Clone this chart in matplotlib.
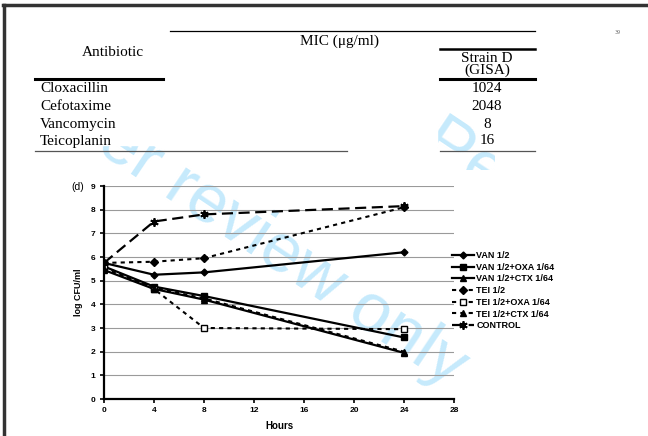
import matplotlib
matplotlib.use('Agg')
import matplotlib.pyplot as plt
from matplotlib.lines import Line2D
from matplotlib.patches import Rectangle
from matplotlib.transforms import Bbox, TransformedBbox

# table data
antibiotics = ['Cloxacillin', 'Cefotaxime', 'Vancomycin', 'Teicoplanin']
mic_values = ['1024', '2048', '8', '16']

# time-kill curves (log CFU/ml)
hours = [0, 4, 8, 24]
van = [5.75, 5.25, 5.35, 6.2]
van_oxa = [5.6, 4.75, 4.35, 2.6]
van_ctx = [5.45, 4.65, 4.2, 1.95]
tei = [5.75, 5.8, 5.95, 8.1]
tei_oxa = [5.6, 4.65, 3.0, 2.95]
tei_ctx = [5.5, 4.7, 4.25, 2.0]
control = [5.75, 7.5, 7.8, 8.15]

W, H = 648, 436
fig = plt.figure(figsize=(6.48, 4.36), dpi=100)

def fx(x):
    return x / W

def fy(y):
    return 1 - y / H

def hline(x0, x1, y, lw, color='black'):
    fig.add_artist(Line2D([fx(x0), fx(x1)], [fy(y), fy(y)], lw=lw, color=color))

# page border
hline(3, W, 5, 2.5, '#333333')
fig.add_artist(Line2D([fx(4), fx(4)], [fy(5), fy(H)], lw=2.5, color='#333333'))

# watermark (partly hidden behind the table, as in the scan)
wm = dict(color='#c6eafc', fontsize=50, family='Liberation Sans', rotation=-33.8,
          rotation_mode='anchor', zorder=-2)
fig.text(fx(450), fy(388), 'peer review only', ha='right', va='baseline', **wm)
wm_top = fig.text(fx(316), fy(80), 'For Peer', ha='left', va='baseline', **wm)
wm_top.set_clip_box(TransformedBbox(Bbox.from_extents(fx(437), fy(170), fx(495), fy(0)),
                                    fig.transFigure))
fig.add_artist(Rectangle((fx(6), fy(145)), fx(437) - fx(6), fy(8) - fy(145),
                         transform=fig.transFigure, color='white', zorder=-1))

# table
serif = dict(family='Liberation Serif', fontsize=11)
hline(170, 535, 31, 0.9)
hline(440, 535, 49, 1.8)
hline(35, 163, 79, 2.2)
hline(440, 535, 79, 2.2)
hline(35, 347, 151, 0.9, '#555555')
hline(440, 535, 151, 0.9, '#555555')
fig.text(fx(340), fy(41), 'MIC (\u03bcg/ml)', ha='center', va='center', **serif)
fig.text(fx(113), fy(53), 'Antibiotic', ha='center', va='center', **serif)
fig.text(fx(487), fy(58), 'Strain D', ha='center', va='center', **serif)
fig.text(fx(487), fy(70), '(GISA)', ha='center', va='center', **serif)
row_y = [88, 106, 124, 141]
for name, val, y in zip(antibiotics, mic_values, row_y):
    fig.text(fx(40), fy(y), name, ha='left', va='center', **serif)
    fig.text(fx(487), fy(y), val, ha='center', va='center', **serif)
fig.text(fx(618), fy(33), '39', ha='center', va='center', fontsize=3.5, color='#777777')

# chart
fig.text(fx(78), fy(187), '(d)', ha='center', va='center', family='Liberation Sans', fontsize=7.5)
ax = fig.add_axes([fx(104), fy(399), (454 - 104) / W, (399 - 186) / H])
ax.patch.set_visible(False)

solid = dict(color='black', lw=1.6)
dot = dict(color='black', lw=1.5, ls=(0, (2, 2)))
ax.plot(hours, van, marker='D', ms=3.5, label='VAN 1/2', **solid)
ax.plot(hours, van_oxa, marker='s', ms=4, label='VAN 1/2+OXA 1/64', **solid)
ax.plot(hours, van_ctx, marker='^', ms=4, label='VAN 1/2+CTX 1/64', **solid)
ax.plot(hours, tei, marker='D', ms=4, label='TEI 1/2', **dot)
ax.plot(hours, tei_oxa, marker='s', ms=4.5, mfc='white', mew=1, label='TEI 1/2+OXA 1/64', **dot)
ax.plot(hours, tei_ctx, marker='^', ms=4, label='TEI 1/2+CTX 1/64', **dot)
ax.plot(hours, control, marker=(6, 2, 0), ms=6, mew=1.3, label='CONTROL',
        color='black', lw=1.6, ls=(0, (5, 2.5)))

ax.set_xlim(0, 28)
ax.set_ylim(0, 9)
ax.set_xticks(range(0, 29, 4))
ax.set_yticks(range(0, 10))
ax.yaxis.grid(True, color='#9a9a9a', lw=0.8)
ax.set_axisbelow(True)
for s in ['top', 'right']:
    ax.spines[s].set_visible(False)
for s in ['left', 'bottom']:
    ax.spines[s].set_linewidth(1.6)
ax.tick_params(length=3, width=1.2, labelsize=6, pad=3)
for lab in ax.get_xticklabels() + ax.get_yticklabels():
    lab.set_family('Liberation Sans')
    lab.set_fontweight('bold')
ax.set_ylabel('log CFU/ml', family='Liberation Sans', fontweight='bold', fontsize=6.5, labelpad=6)
ax.set_xlabel('Hours', family='Liberation Sans', fontweight='bold', fontsize=7, labelpad=5)

ax.legend(loc='upper left', bbox_to_anchor=(0.994, 0.695), frameon=False, borderpad=0,
          borderaxespad=0, handlelength=2.4, handletextpad=0.3, labelspacing=0.3,
          prop=dict(family='Liberation Sans', weight='bold', size=6.5))

fig.savefig('out.png', dpi=100)
